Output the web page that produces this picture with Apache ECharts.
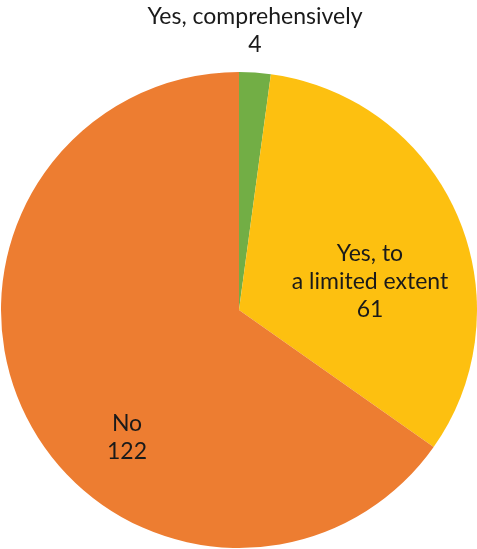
<!DOCTYPE html>
<html>
<head>
<meta charset="utf-8">
<script src="https://cdn.jsdelivr.net/npm/echarts@6/dist/echarts.min.js"></script>
<style>
  html, body { margin: 0; padding: 0; background: #fff; }
  #chart { width: 477px; height: 549px; }
</style>
</head>
<body>
<div id="chart"></div>
<script>
// Answers and counts, drawn clockwise from 12 o'clock
const categories = ['Yes, comprehensively', 'Yes, to\na limited extent', 'No'];
const counts = [4, 61, 122];
const colors = ['#72AE45', '#FDC010', '#ED7D31'];

// Where each slice's label sits (centre of the text block)
const labelSpots = [
  { x: 255, y: 31 },
  { x: 370, y: 282 },
  { x: 127, y: 438 }
];

const chart = echarts.init(document.getElementById('chart'), null, { renderer: 'canvas' });

chart.setOption({
  animation: false,
  series: [{
    type: 'pie',
    center: [239, 310],
    radius: [0, 238],
    startAngle: 90,
    clockwise: true,
    avoidLabelOverlap: false,
    itemStyle: { borderWidth: 0 },
    label: {
      show: true,
      position: 'inside',
      formatter: p => p.name + '\n' + p.value,
      fontFamily: 'Lato, sans-serif',
      fontSize: 23,
      lineHeight: 28,
      color: '#1a1a1a',
      align: 'center'
    },
    labelLine: { show: false },
    labelLayout: p => Object.assign({ align: 'center', verticalAlign: 'middle' }, labelSpots[p.dataIndex]),
    data: categories.map((c, i) => ({ name: c, value: counts[i], itemStyle: { color: colors[i] } }))
  }]
});
</script>
</body>
</html>
